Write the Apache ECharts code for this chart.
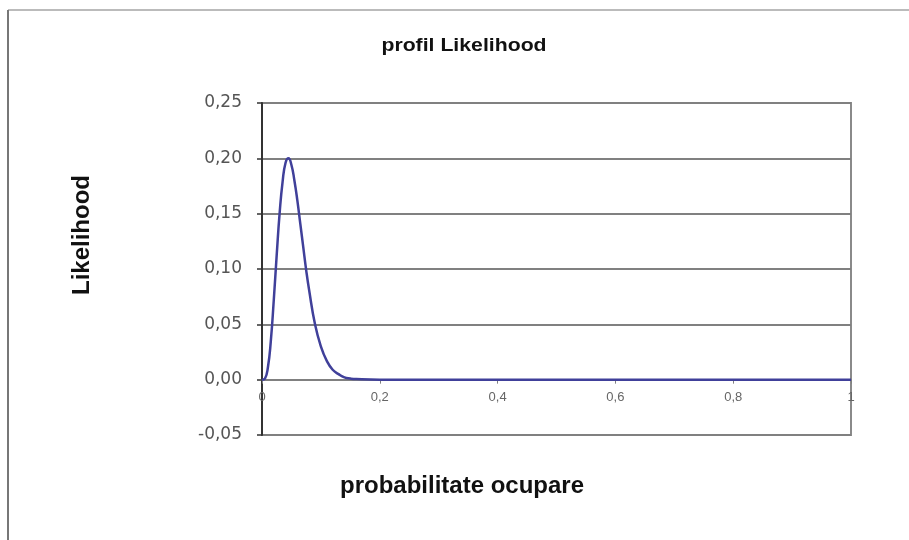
<!DOCTYPE html>
<html>
<head>
<meta charset="utf-8">
<script src="https://cdn.jsdelivr.net/npm/echarts@6/dist/echarts.min.js"></script>
<style>
html,body{margin:0;padding:0;background:#fff;}
#chart{width:909px;height:540px;}
</style>
</head>
<body>
<div id="chart"></div>
<script>
var chartTitle = 'profil Likelihood';
var xAxisTitle = 'probabilitate ocupare';
var yAxisTitle = 'Likelihood';

// probability (x) and likelihood (y)
var probability = [0, 0.005, 0.01, 0.015, 0.02, 0.025, 0.03, 0.035, 0.04, 0.045, 0.05, 0.055, 0.06, 0.065, 0.07, 0.075, 0.08, 0.09, 0.1, 0.11, 0.12, 0.13, 0.14, 0.15, 0.16, 0.2, 0.3, 0.4, 0.5, 0.6, 0.7, 0.8, 0.9, 1];
var likelihood  = [0, 0.001, 0.011, 0.035, 0.072, 0.113, 0.151, 0.179, 0.196, 0.200, 0.194, 0.180, 0.162, 0.141, 0.120, 0.099, 0.081, 0.050, 0.030, 0.017, 0.009, 0.005, 0.002, 0.001, 0.0005, 0, 0, 0, 0, 0, 0, 0, 0, 0];

var yTicks = [-0.05, 0, 0.05, 0.10, 0.15, 0.20, 0.25];
var xTicks = [0, 0.2, 0.4, 0.6, 0.8, 1];

var points = probability.map(function (p, i) { return [p, likelihood[i]]; });

var gridTop = 103, gridBottomY = 435;
var yMin = yTicks[0], yMax = yTicks[yTicks.length - 1];
// distance from the plot bottom up to the zero line, through the y scale
var zeroOffset = (gridBottomY - gridTop) * (0 - yMin) / (yMax - yMin);

var chart = echarts.init(document.getElementById('chart'), null, {renderer: 'canvas'});
chart.setOption({
  backgroundColor: '#ffffff',
  animation: false,
  grid: {
    left: 262, right: 58, top: gridTop, bottom: 540 - gridBottomY,
    show: true, borderColor: '#8a8a8a', borderWidth: 2, backgroundColor: '#fff'
  },
  xAxis: {
    type: 'value', min: xTicks[0], max: xTicks[xTicks.length - 1], interval: 0.2,
    position: 'bottom', offset: -zeroOffset,
    axisLine: {onZero: false, lineStyle: {color: '#808080', width: 2}},
    axisTick: {show: true, inside: false, length: 4, lineStyle: {color: '#808080'}},
    splitLine: {show: false},
    axisLabel: {
      margin: 11, fontSize: 13, color: '#666', fontFamily: 'Liberation Sans',
      formatter: function (v) { return (v === 0 || v === 1) ? String(v) : v.toFixed(1).replace('.', ','); }
    }
  },
  yAxis: {
    type: 'value', min: yMin, max: yMax, interval: 0.05,
    axisLine: {show: true, onZero: false, lineStyle: {color: '#333', width: 2}},
    axisTick: {show: true, inside: false, length: 5, lineStyle: {color: '#333', width: 1.5}},
    splitLine: {show: true, lineStyle: {color: '#808080', width: 2}},
    axisLabel: {
      margin: 20, fontSize: 17, color: '#555', fontFamily: 'DejaVu Sans',
      formatter: function (v) { return v.toFixed(2).replace('.', ','); }
    }
  },
  series: [{
    type: 'line', data: points, smooth: true, showSymbol: false,
    lineStyle: {color: '#40409a', width: 2.5}, z: 5
  }],
  graphic: [
    {type: 'line', shape: {x1: 8, y1: 10, x2: 909, y2: 10}, style: {stroke: '#bbb', lineWidth: 2}},
    {type: 'line', shape: {x1: 8, y1: 10, x2: 8, y2: 540}, style: {stroke: '#777', lineWidth: 2}},
    {type: 'text', x: 464, y: 46, scaleX: 1.18, style: {text: chartTitle, font: 'bold 18px "Liberation Sans"', fill: '#111', align: 'center', verticalAlign: 'middle'}},
    {type: 'text', x: 462, y: 486, style: {text: xAxisTitle, font: 'bold 24px "Liberation Sans"', fill: '#111', align: 'center', verticalAlign: 'middle'}},
    {type: 'text', x: 82, y: 235, rotation: Math.PI / 2, style: {text: yAxisTitle, font: 'bold 24px "Liberation Sans"', fill: '#111', align: 'center', verticalAlign: 'middle'}}
  ]
});
</script>
</body>
</html>
